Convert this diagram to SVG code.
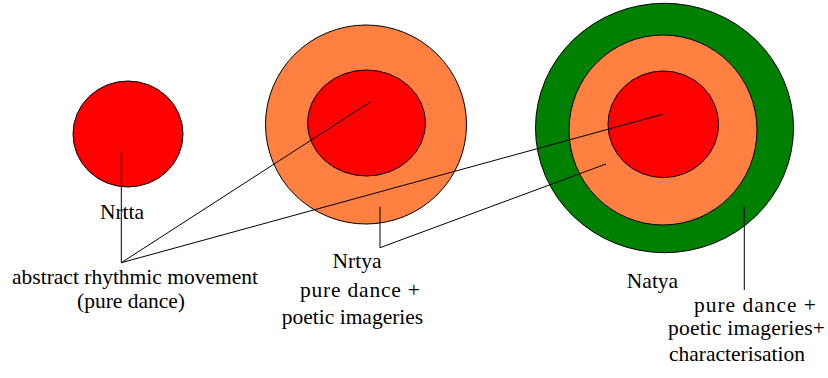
<svg xmlns="http://www.w3.org/2000/svg" width="828" height="378" viewBox="0 0 828 378">
<style>
.c{stroke:#000;stroke-width:1}
.red{fill:#FF0000}
.org{fill:#FF8040}
.grn{fill:#008000}
.t{font-family:'Liberation Serif','Times New Roman','DejaVu Serif',serif;font-size:21.5px;fill:#000;text-anchor:middle}
.ln{stroke:#000;stroke-width:1;fill:none}
</style>
<rect width="828" height="378" fill="#fff"/>
<g id="nrtta">
<ellipse class="c red" cx="128" cy="134" rx="55" ry="53"/>
<text class="t" x="122" y="219">Nrtta</text>
</g>
<g id="nrtya">
<ellipse class="c org" cx="366" cy="124.5" rx="100.5" ry="99.5"/>
<ellipse class="c red" cx="366.5" cy="123" rx="59" ry="53"/>
<text class="t" x="357" y="268">Nrtya</text>
<text class="t" x="360" y="297" textLength="120" lengthAdjust="spacing">pure dance +</text>
<text class="t" x="352.5" y="324">poetic imageries</text>
</g>
<g id="natya">
<ellipse class="c grn" cx="664.5" cy="128" rx="129" ry="124.7"/>
<ellipse class="c org" cx="663" cy="130" rx="94" ry="95"/>
<ellipse class="c red" cx="663.3" cy="124.3" rx="55.3" ry="53.3"/>
<text class="t" x="652.5" y="288">Natya</text>
<text class="t" x="755" y="311.7" textLength="122" lengthAdjust="spacing">pure dance +</text>
<text class="t" x="746.5" y="335" textLength="157" lengthAdjust="spacing">poetic imageries+</text>
<text class="t" x="737" y="361">characterisation</text>
</g>
<g id="abstract">
<text class="t" x="135" y="283.5">abstract rhythmic movement</text>
<text class="t" x="131" y="307.5">(pure dance)</text>
</g>
<g id="connectors">
<polyline class="ln" points="121.3,150.7 121.3,262.7 370.7,101.7"/>
<line class="ln" x1="121.3" y1="262.7" x2="662.7" y2="114.3"/>
<polyline class="ln" points="380,206.7 380,247.7 606,164"/>
<line class="ln" x1="744.3" y1="206.7" x2="744.3" y2="290"/>
</g>
</svg>
